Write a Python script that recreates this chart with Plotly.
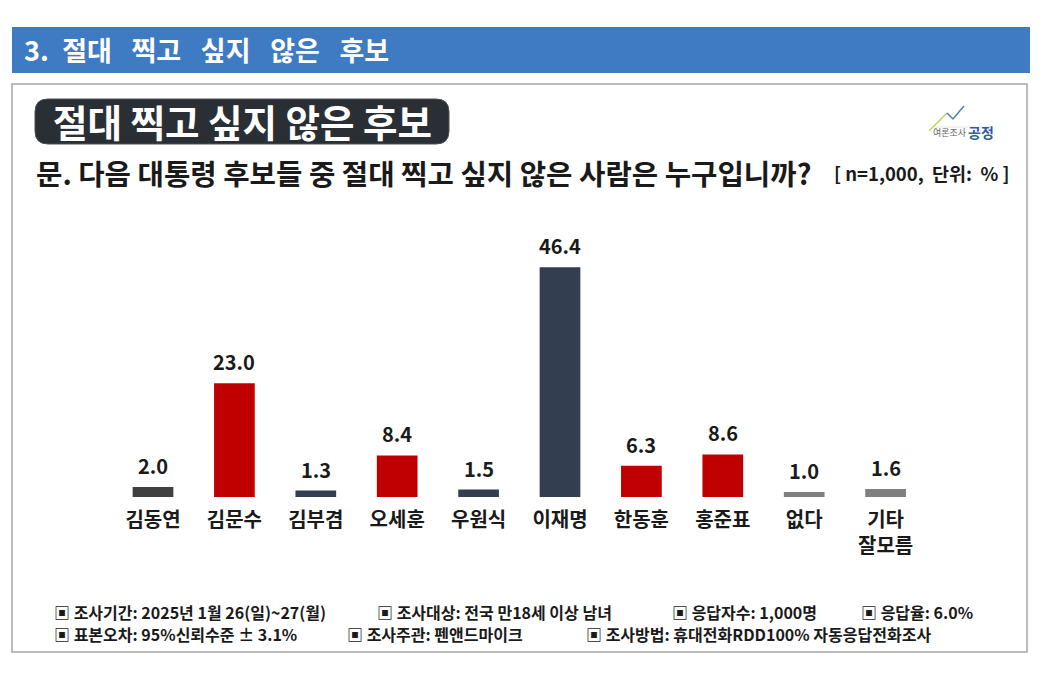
import plotly.graph_objects as go

# page is 1044x683 but the html body has an 8px margin -> figure 1028x667 placed at (8,8)
PAGE_OFF = 8
W, H = 1028, 667

categories = ["김동연", "김문수", "김부겸", "오세훈", "우원식", "이재명", "한동훈", "홍준표", "없다", "기타<br>잘모름"]
values = [2.0, 23.0, 1.3, 8.4, 1.5, 46.4, 6.3, 8.6, 1.0, 1.6]
bar_colors = ["#404040", "#C00000", "#333F50", "#C00000", "#333F50",
              "#333F50", "#C00000", "#C00000", "#7F7F7F", "#7F7F7F"]

header_title = "3.\u2002절대\u2002 찍고\u2002 싶지\u2002 않은\u2002 후보"
badge_title = "절대 찍고 싶지 않은 후보"
question = "문. 다음 대통령 후보들 중 절대 찍고 싶지 않은 사람은 누구입니까?"
unit_note = "[ n=1,000,  단위:  % ]"
footer_line1 = ["▣ 조사기간: 2025년 1월 26(일)~27(월)", "▣ 조사대상: 전국 만18세 이상 남녀",
                "▣ 응답자수: 1,000명", "▣ 응답율: 6.0%"]
footer_line2 = ["▣ 표본오차: 95%신뢰수준 ± 3.1%", "▣ 조사주관: 펜앤드마이크",
                "▣ 조사방법: 휴대전화RDD100% 자동응답전화조사"]

FONT = "Noto Sans CJK KR, Malgun Gothic, sans-serif"
TXT = "#1a1a1a"


def px(x):
    return (x - PAGE_OFF) / W


def py(y):
    return 1 - (y - PAGE_OFF) / H


fig = go.Figure()
fig.add_trace(go.Bar(
    x=categories, y=values,
    marker=dict(color=bar_colors, line=dict(width=0)),
    width=0.5,
    hoverinfo="skip",
))

ymax = 50
base_y = 497
unit_px = 4.95
top_y = base_y - ymax * unit_px

fig.update_layout(
    width=W, height=H,
    margin=dict(l=0, r=0, t=0, b=0),
    paper_bgcolor="white", plot_bgcolor="white",
    showlegend=False,
    font=dict(family=FONT, color=TXT),
    xaxis=dict(domain=[px(112.3), px(926.3)], range=[-0.5, 9.5], showgrid=False,
               zeroline=False, showline=False, ticks="", ticklabelstandoff=9,
               tickfont=dict(family=FONT, size=20, color=TXT, weight="bold"),
               fixedrange=True),
    yaxis=dict(domain=[py(base_y), py(top_y)], range=[0, ymax], visible=False,
               fixedrange=True),
)


def P(x, y):
    return f"{px(x)},{py(y)}"


shapes = []
# header bar
shapes.append(dict(type="rect", xref="paper", yref="paper", x0=px(12), x1=px(1030),
                   y0=py(73), y1=py(27), fillcolor="#3F7BC3", line=dict(width=0), layer="below"))
# content border box
shapes.append(dict(type="rect", xref="paper", yref="paper", x0=px(12), x1=px(1027),
                   y0=py(652), y1=py(84), fillcolor="rgba(0,0,0,0)",
                   line=dict(color="#A6A6A6", width=1.5), layer="below"))
# badge rounded rect
bx0, bx1, by0, by1, r = 35, 449, 99, 144, 13
path = (f"M {P(bx0 + r, by0)} L {P(bx1 - r, by0)} Q {P(bx1, by0)} {P(bx1, by0 + r)} "
        f"L {P(bx1, by1 - r)} Q {P(bx1, by1)} {P(bx1 - r, by1)} "
        f"L {P(bx0 + r, by1)} Q {P(bx0, by1)} {P(bx0, by1 - r)} "
        f"L {P(bx0, by0 + r)} Q {P(bx0, by0)} {P(bx0 + r, by0)} Z")
shapes.append(dict(type="path", xref="paper", yref="paper", path=path,
                   fillcolor="#2A2E35", line=dict(color="#4A4F57", width=1)))
# logo lines
shapes.append(dict(type="path", xref="paper", yref="paper",
                   path=f"M {P(929,131)} L {P(947,113)}",
                   line=dict(color="#B5D65E", width=1.5)))
shapes.append(dict(type="path", xref="paper", yref="paper",
                   path=f"M {P(947,113)} L {P(953,119)} L {P(964,106)}",
                   line=dict(color="#4A7FB5", width=1.5)))
shapes.append(dict(type="line", xref="paper", yref="paper",
                   x0=px(935), x1=px(990), y0=py(127), y1=py(127),
                   line=dict(color="#DDDDDD", width=0.8)))
fig.update_layout(shapes=shapes)

ann = []
ann.append(dict(text=header_title, x=px(22), y=py(49), xanchor="left", yanchor="middle",
                font=dict(family=FONT, size=27, color="white", weight="bold")))
ann.append(dict(text=badge_title, x=px(242), y=py(121), xanchor="center", yanchor="middle",
                font=dict(family=FONT, size=37.5, color="white", weight="bold")))
ann.append(dict(text=question, x=px(34), y=py(172), xanchor="left", yanchor="middle",
                font=dict(family=FONT, size=28.7, color=TXT, weight="bold")))
ann.append(dict(text=unit_note, x=px(1012), y=py(173), xanchor="right", yanchor="middle",
                font=dict(family=FONT, size=18.5, color=TXT, weight="bold")))
ann.append(dict(text="여론조사", x=px(950), y=py(133), xanchor="center", yanchor="middle",
                font=dict(family=FONT, size=9, color="#666666")))
ann.append(dict(text="공정", x=px(966), y=py(132), xanchor="left", yanchor="middle",
                font=dict(family=FONT, size=14, color="#2E5C9A", weight="bold")))

for txt, x in zip(footer_line1, [53, 376, 671, 860]):
    ann.append(dict(text=txt, x=px(x), y=py(611.5), xanchor="left", yanchor="middle",
                    borderpad=0,
                    font=dict(family=FONT, size=16, color=TXT, weight="bold")))
for txt, x in zip(footer_line2, [53, 346, 585]):
    ann.append(dict(text=txt, x=px(x), y=py(633.5), xanchor="left", yanchor="middle",
                    borderpad=0,
                    font=dict(family=FONT, size=16, color=TXT, weight="bold")))

for a in ann:
    a.update(xref="paper", yref="paper", showarrow=False)

# value labels placed through the data axes
for c, v in zip(categories, values):
    ann.append(dict(x=c, y=v, xref="x", yref="y", text=f"{v:.1f}", showarrow=False,
                    yanchor="bottom", yshift=5,
                    font=dict(family=FONT, size=20, color=TXT, weight="bold")))

fig.update_layout(annotations=ann)

fig.write_html("out.html")
